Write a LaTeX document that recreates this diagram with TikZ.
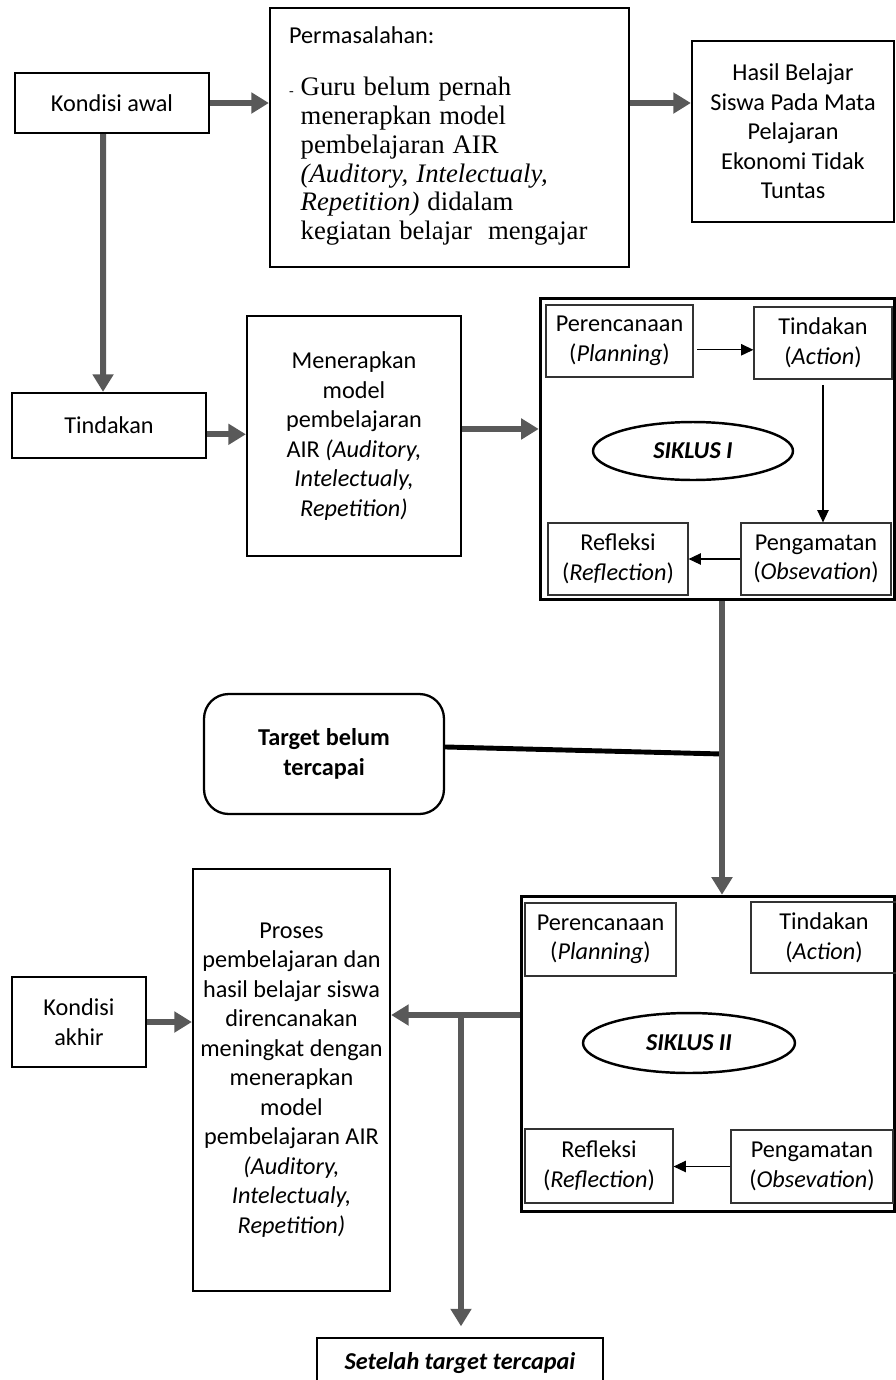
\documentclass[tikz,border=0pt]{standalone}
\usepackage{fontspec}
\setmainfont{Carlito}
\newfontfamily\timesfont{Liberation Serif}
\usetikzlibrary{shapes.geometric,arrows.meta}
\definecolor{arrowgray}{HTML}{595959}
\newcommand\diagfont{\fontsize{13.8}{16.8}\selectfont}

\begin{document}
\begin{tikzpicture}
        [
            x = 0.02cm, y = -0.02cm,
            font = \diagfont,
            box/.style = {draw, line width = 1.3pt, align = center, inner xsep = 2pt},
            cyclebox/.style = {draw, line width = 1.5pt},
            innerline/.style = {draw, line width = 0.5pt},
            stagebox/.style = {draw = black!80, line width = 0.7pt, align = center, inner xsep = 2pt, minimum height = 1.44cm},
            cyclename/.style = {draw, ellipse, line width = 1.4pt, font = \diagfont\bfseries\itshape},
            bigarrow/.style = {draw = arrowgray, line width = 3.4pt, -{Triangle[length = 10pt, width = 11.5pt]}},
            smallarrow/.style = {draw, line width = 0.6pt, -{Triangle[length = 7pt, width = 6.5pt]}},
        ]

        \useasboundingbox (0,0) rectangle (896,1380);

        % kondisi awal
        \node[box, minimum width = 3.88cm, minimum height = 1.2cm] (awal) at (112,103) {Kondisi awal};
        \node[box, align = left, inner xsep = 0pt, text width = 6.42cm, minimum width = 7.18cm, minimum height = 5.18cm] (masalah) at (449.5,137.5)
            {Permasalahan:\\[13pt]
             {\timesfont\fontsize{15.2}{16.4}\selectfont
              \begin{tabular}[t]{@{}l@{\hspace{4pt}}l@{}}
                  {\footnotesize -} & Guru belum pernah\\
                    & menerapkan model\\
                    & pembelajaran AIR\\
                    & \textit{(Auditory, Intelectualy,}\\
                    & \textit{Repetition)} didalam\\
                    & kegiatan belajar\ \ mengajar
              \end{tabular}}};
        \node[box, minimum width = 4.04cm, minimum height = 3.62cm] (hasil) at (793,131.5)
            {Hasil Belajar\\ Siswa Pada Mata\\ Pelajaran\\ Ekonomi Tidak\\ Tuntas};

        % tindakan
        \node[box, minimum width = 3.88cm, minimum height = 1.3cm] (tindakan) at (109,425.5) {Tindakan};
        \node[box, minimum width = 4.28cm, minimum height = 4.8cm] (terapkan) at (354,436)
            {Menerapkan\\ model\\ pembelajaran\\ AIR \textit{(Auditory,}\\ \textit{Intelectualy,}\\ \textit{Repetition)}};

        % siklus I
        \node[cyclebox, minimum width = 7.1cm, minimum height = 6.04cm] (siklus1) at (717.5,449) {};
        \draw[innerline] ([shift={(3,3)}]siklus1.north west) rectangle ([shift={(-3,-3)}]siklus1.south east);
        \node[stagebox, minimum width = 2.94cm] (rencana1) at (619.5,341) {Perencanaan\\ (\textit{Planning})};
        \node[stagebox, minimum width = 2.76cm] (aksi1) at (823,343) {Tindakan\\ (\textit{Action})};
        \node[stagebox, minimum width = 3.0cm] (amat1) at (816,559) {Pengamatan\\ (\textit{Obsevation})};
        \node[stagebox, minimum width = 2.8cm] (refleksi1) at (618,559) {Refleksi\\ (\textit{Reflection})};
        \node[cyclename, minimum width = 4cm, minimum height = 1.16cm] (nama1) at (693,451) {SIKLUS I};

        % target belum tercapai
        \node[box, rounded corners = 14pt, minimum width = 4.8cm, minimum height = 2.4cm, font = \diagfont\bfseries] (target) at (324,754)
            {Target belum\\ tercapai};
        \coordinate (belok) at (722,754);

        % siklus II
        \node[cyclebox, minimum width = 7.48cm, minimum height = 6.32cm] (siklus2) at (708,1054) {};
        \draw[innerline] ([shift={(3,3)}]siklus2.north west) rectangle ([shift={(-3,-3)}]siklus2.south east);
        \node[stagebox, minimum width = 3.02cm, minimum height = 1.46cm] (rencana2) at (600.5,939.5) {Perencanaan\\ (\textit{Planning})};
        \node[stagebox, minimum width = 2.92cm, minimum height = 1.42cm] (aksi2) at (824,937.5) {Tindakan\\ (\textit{Action})};
        \node[stagebox, minimum width = 3.24cm, minimum height = 1.46cm] (amat2) at (812,1166.5) {Pengamatan\\ (\textit{Obsevation})};
        \node[stagebox, minimum width = 2.96cm, minimum height = 1.48cm] (refleksi2) at (599,1166) {Refleksi\\ (\textit{Reflection})};
        \node[cyclename, minimum width = 4.24cm, minimum height = 1.2cm] (nama2) at (689,1043) {SIKLUS II};

        % kondisi akhir
        \node[box, minimum width = 2.68cm, minimum height = 1.8cm] (akhir) at (79,1022) {Kondisi\\ akhir};
        \node[box, minimum width = 3.94cm, minimum height = 8.44cm] (proses) at (291.5,1080)
            {Proses\\ pembelajaran dan\\ hasil belajar siswa\\ direncanakan\\ meningkat dengan\\ menerapkan\\ model\\
             pembelajaran AIR\\ \textit{(Auditory,}\\ \textit{Intelectualy,}\\ \textit{Repetition)}};
        \node[box, minimum width = 5.72cm, minimum height = 1.0cm, font = \diagfont\bfseries\itshape] (setelah) at (460,1363)
            {Setelah target tercapai};
        \coordinate (cabang) at (461,1015);

        % connectors
        \draw[bigarrow] (awal.east) -- (awal.east -| masalah.west);
        \draw[bigarrow] (masalah.east |- awal.east) -- (hasil.west |- awal.east);
        \draw[bigarrow] ([xshift = -5pt]awal.south) -- ([xshift = -3.4pt]tindakan.north);
        \draw[bigarrow] ([yshift = -5pt]tindakan.east) -- ([yshift = -5pt]tindakan.east -| terapkan.west);
        \draw[bigarrow] ([yshift = 4pt]terapkan.east) -- ([yshift = 4pt]terapkan.east -| siklus1.west);

        \draw[smallarrow, shorten < = 2pt] ([yshift = -5pt]rencana1.east) -- ([yshift = -5pt]rencana1.east -| aksi1.west);
        \draw[smallarrow, shorten < = 3pt] (aksi1.south) -- (aksi1.south |- amat1.north);
        \draw[smallarrow] (amat1.west) -- (amat1.west -| refleksi1.east);
        \draw[smallarrow] (amat2.west) -- (amat2.west -| refleksi2.east);

        \draw[line width = 2.8pt] ([yshift = 4pt]target.east) -- (belok);
        \draw[bigarrow] (siklus1.south -| belok) -- (siklus2.north -| belok);

        \draw[bigarrow] (cabang -| siklus2.west) -- (cabang -| proses.east);
        \draw[bigarrow, shorten > = 6pt] (cabang) -- (cabang |- setelah.north);
        \draw[bigarrow] (akhir.east) -- (akhir.east -| proses.west);

    \end{tikzpicture}
\end{document}
